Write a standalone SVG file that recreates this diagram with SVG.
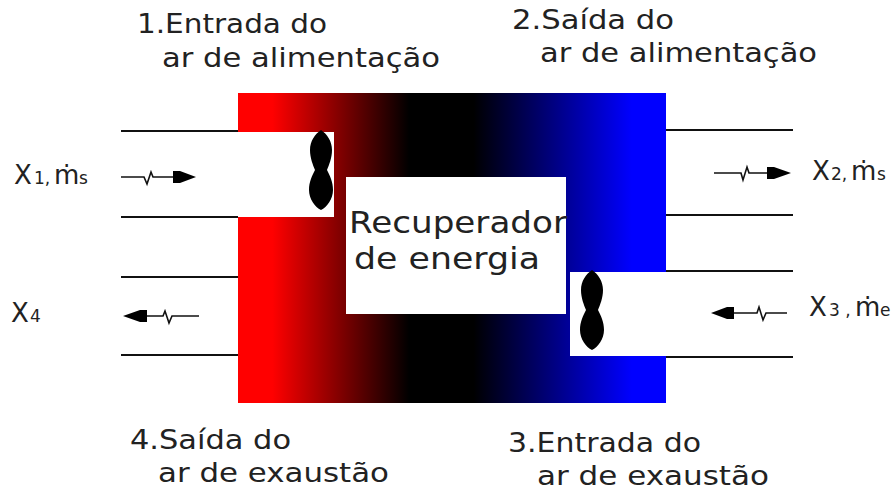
<svg xmlns="http://www.w3.org/2000/svg" width="892" height="491" viewBox="0 0 892 491">
<style>
text{font-family:"DejaVu Sans",Verdana,sans-serif;font-size:27px;fill:#222;font-weight:400}
.big{font-size:30px}
.x{font-size:26px}
.s{font-size:17px}
.w{fill:#fff}
.l{stroke:#111;stroke-width:2;fill:none}
.f{stroke:#111;stroke-width:1.6;fill:none}
.h{fill:#000}
</style>
<defs>
<linearGradient id="g" gradientUnits="userSpaceOnUse" x1="238" y1="0" x2="666" y2="0">
<stop offset="0" stop-color="#f00"/><stop offset="0.08" stop-color="#f00"/>
<stop offset="0.4" stop-color="#000"/><stop offset="0.55" stop-color="#000"/>
<stop offset="0.92" stop-color="#00f"/><stop offset="1" stop-color="#00f"/>
</linearGradient>
<path id="fan" d="M0,-40C-6,-36 -11,-29 -11,-20C-11,-12 -8,-5 -6,0C-9,6 -12,12 -12,20C-12,29 -6,37 0,40C6,37 12,29 12,20C12,12 9,6 6,0C8,-5 11,-12 11,-20C11,-29 6,-36 0,-40Z"/>
</defs>
<g id="recuperador">
<rect x="238" y="93" width="428" height="310" fill="url(#g)"/>
<rect class="w" x="238" y="132" width="96" height="85"/>
<rect class="w" x="570" y="272" width="96" height="84"/>
<rect class="w" x="346" y="177" width="220" height="137"/>
<text class="big" x="349" y="233" textLength="218" lengthAdjust="spacingAndGlyphs">Recuperador</text>
<text class="big" x="354" y="269" textLength="186" lengthAdjust="spacingAndGlyphs">de energia</text>
</g>
<g id="fan-supply"><use href="#fan" x="321" y="170" class="h"/></g>
<g id="fan-exhaust"><use href="#fan" x="592" y="310" class="h"/></g>
<g id="connectors">
<path class="l" d="M121,131H238M121,217H238M121,277H238M121,355H238M666,130H793M666,215H793M666,271H793M666,357H793"/>
<path class="f" d="M121,177H144L147,184L151,172L153,177H175M714,173H741L743,180L747,167L749,173H770M199,316H172L169,323L165,311L163,316H145M787,313H766L763,320L759,307L757,313H732"/>
<path class="h" d="M173,171L180,171L196,177L180,183L173,183ZM767,167L774,167L791,173L774,179L767,179ZM147,310L140,310L123,316L140,322L147,322ZM734,307L727,307L711,313L727,319L734,319Z"/>
</g>
<g id="labels">
<text x="137" y="33" textLength="190" lengthAdjust="spacingAndGlyphs">1.Entrada do</text>
<text x="162" y="67" textLength="278" lengthAdjust="spacingAndGlyphs">ar de alimentação</text>
<text x="512" y="29" textLength="162" lengthAdjust="spacingAndGlyphs">2.Saída do</text>
<text x="540" y="62" textLength="277" lengthAdjust="spacingAndGlyphs">ar de alimentação</text>
<text x="130" y="449" textLength="161" lengthAdjust="spacingAndGlyphs">4.Saída do</text>
<text x="158" y="482" textLength="231" lengthAdjust="spacingAndGlyphs">ar de exaustão</text>
<text x="508" y="452" textLength="193" lengthAdjust="spacingAndGlyphs">3.Entrada do</text>
<text x="537" y="485" textLength="232" lengthAdjust="spacingAndGlyphs">ar de exaustão</text>
<text class="x" y="184"><tspan x="14">X</tspan><tspan class="s" x="34">1,</tspan><tspan x="54">ṁ</tspan><tspan class="s" x="79">s</tspan></text>
<text class="x" y="180"><tspan x="812">X</tspan><tspan class="s" x="831">2,</tspan><tspan x="851">ṁ</tspan><tspan class="s" x="877">s</tspan></text>
<text class="x" y="316"><tspan x="809">X</tspan><tspan class="s" x="829">3 ,</tspan><tspan x="855">ṁ</tspan><tspan class="s" x="880">e</tspan></text>
<text class="x" y="322"><tspan x="11">X</tspan><tspan class="s" x="30">4</tspan></text>
</g>
</svg>
